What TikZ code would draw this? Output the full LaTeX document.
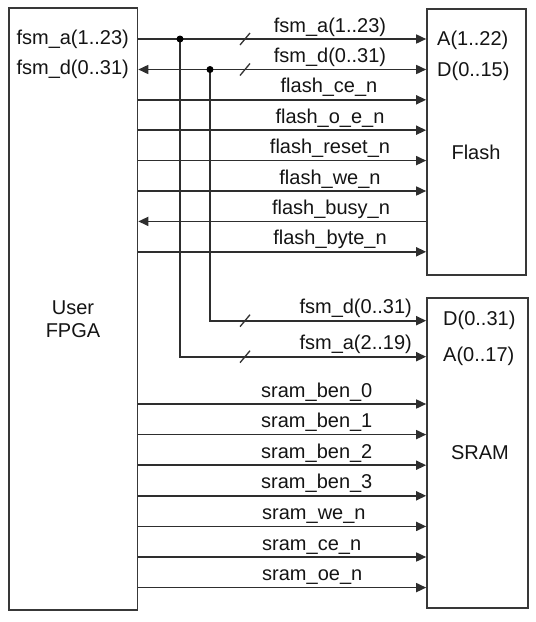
\documentclass[tikz,border=0pt]{standalone}
\usepackage{fontspec}
\setmainfont{Liberation Sans}
\usetikzlibrary{arrows.meta}
\begin{document}
\begin{tikzpicture}[x=1pt,y=-1pt,
  box/.style={draw=black!78, line width=1.6pt, fill=white, inner sep=0pt},
  sig/.style={draw=black!82, line width=1.6pt},
  tip/.style={-{Triangle[length=10pt,width=9pt]}},
  tipl/.style={{Triangle[length=10pt,width=9pt]}-},
  tipb/.style={{Triangle[length=10pt,width=9pt]}-{Triangle[length=10pt,width=9pt]}},
  txt/.style={font=\fontsize{20}{23.5}\selectfont, inner sep=0pt, text=black!92},
  slashmark/.style={draw=black!80, line width=1.3pt},
  dot/.style={circle, fill=black, inner sep=0pt, minimum size=7pt}
]
\useasboundingbox (0,0) rectangle (536,622);

% boxes
\node[box, minimum width=128.5pt, minimum height=602pt] (fpga) at (73.25,309) {};
\node[box, minimum width=99pt, minimum height=266pt] (flash) at (476.5,142) {};
\node[box, minimum width=101pt, minimum height=310pt] (sram) at (477.5,453) {};

\node[txt, align=center] (fpgalbl) at (73,319) {User\\FPGA};
\node[txt] (flashlbl) at (476,152) {Flash};
\node[txt] (sramlbl) at (480,453) {SRAM};

% row coordinates (flash)
\coordinate (r1) at (300,39);
\coordinate (r2) at (300,69.5);
\coordinate (r3) at (300,99.8);
\coordinate (r4) at (300,130.2);
\coordinate (r5) at (300,160.6);
\coordinate (r6) at (300,191);
\coordinate (r7) at (300,221.4);
\coordinate (r8) at (300,251.8);
% row coordinates (sram)
\coordinate (s1) at (300,320.7);
\coordinate (s2) at (300,356.7);
\coordinate (s3) at (300,404);
\coordinate (s4) at (300,434.6);
\coordinate (s5) at (300,465.2);
\coordinate (s6) at (300,495.8);
\coordinate (s7) at (300,526.4);
\coordinate (s8) at (300,557);
\coordinate (s9) at (300,587.6);

% junctions
\coordinate (ja) at (180,39);
\coordinate (jd) at (210,69.5);

% left port labels
\node[txt, anchor=east] (pa) at (129,39) {fsm\_a(1..23)};
\node[txt, anchor=east] (pd) at (129,69.5) {fsm\_d(0..31)};

% flash port labels
\node[txt, anchor=west] (fa) at (437,40) {A(1..22)};
\node[txt, anchor=west] (fd) at (437,71) {D(0..15)};
% sram port labels
\node[txt, anchor=west] (sd) at (443,320.5) {D(0..31)};
\node[txt, anchor=west] (sa) at (443,356) {A(0..17)};

% flash signals
\draw[sig, tip] (fpga.east |- r1) -- (flash.west |- r1);
\draw[sig, tipb] (fpga.east |- r2) -- (flash.west |- r2);
\draw[sig, tip] (fpga.east |- r3) -- (flash.west |- r3);
\draw[sig, tip] (fpga.east |- r4) -- (flash.west |- r4);
\draw[sig, tip] (fpga.east |- r5) -- (flash.west |- r5);
\draw[sig, tip] (fpga.east |- r6) -- (flash.west |- r6);
\draw[sig, tipl] (fpga.east |- r7) -- (flash.west |- r7);
\draw[sig, tip] (fpga.east |- r8) -- (flash.west |- r8);

% flash signal labels
\node[txt, anchor=base] (l1) at (330,32) {fsm\_a(1..23)};
\node[txt, anchor=base] (l2) at (330,62.5) {fsm\_d(0..31)};
\node[txt, anchor=base] (l3) at (329,92.8) {flash\_ce\_n};
\node[txt, anchor=base] (l4) at (330,123.2) {flash\_o\_e\_n};
\node[txt, anchor=base] (l5) at (330,153.6) {flash\_reset\_n};
\node[txt, anchor=base] (l6) at (330,184) {flash\_we\_n};
\node[txt, anchor=base] (l7) at (331,214.4) {flash\_busy\_n};
\node[txt, anchor=base] (l8) at (330,244.8) {flash\_byte\_n};

% branches to sram
\draw[sig, tip] (jd) |- (sram.west |- s1);
\draw[sig, tip] (ja) |- (sram.west |- s2);
\node[dot] (da) at (ja) {};
\node[dot] (dd) at (jd) {};

% bus slashes
\draw[slashmark] (245,39) +(-5,6) -- +(5,-6);
\draw[slashmark] (245,69.5) +(-5,6) -- +(5,-6);
\draw[slashmark] (245,320.7) +(-5,6) -- +(5,-6);
\draw[slashmark] (245,356.7) +(-5,6) -- +(5,-6);

\node[txt, anchor=base east] (m1) at (412,313.7) {fsm\_d(0..31)};
\node[txt, anchor=base east] (m2) at (412,349.7) {fsm\_a(2..19)};

% sram signals
\draw[sig, tip] (fpga.east |- s3) -- (sram.west |- s3);
\draw[sig, tip] (fpga.east |- s4) -- (sram.west |- s4);
\draw[sig, tip] (fpga.east |- s5) -- (sram.west |- s5);
\draw[sig, tip] (fpga.east |- s6) -- (sram.west |- s6);
\draw[sig, tip] (fpga.east |- s7) -- (sram.west |- s7);
\draw[sig, tip] (fpga.east |- s8) -- (sram.west |- s8);
\draw[sig, tip] (fpga.east |- s9) -- (sram.west |- s9);

\node[txt, anchor=base west] (n3) at (261,397) {sram\_ben\_0};
\node[txt, anchor=base west] (n4) at (261,427.6) {sram\_ben\_1};
\node[txt, anchor=base west] (n5) at (261,458.2) {sram\_ben\_2};
\node[txt, anchor=base west] (n6) at (261,488.8) {sram\_ben\_3};
\node[txt, anchor=base west] (n7) at (262,519.4) {sram\_we\_n};
\node[txt, anchor=base west] (n8) at (262,550) {sram\_ce\_n};
\node[txt, anchor=base west] (n9) at (262,580.6) {sram\_oe\_n};
\end{tikzpicture}
\end{document}
